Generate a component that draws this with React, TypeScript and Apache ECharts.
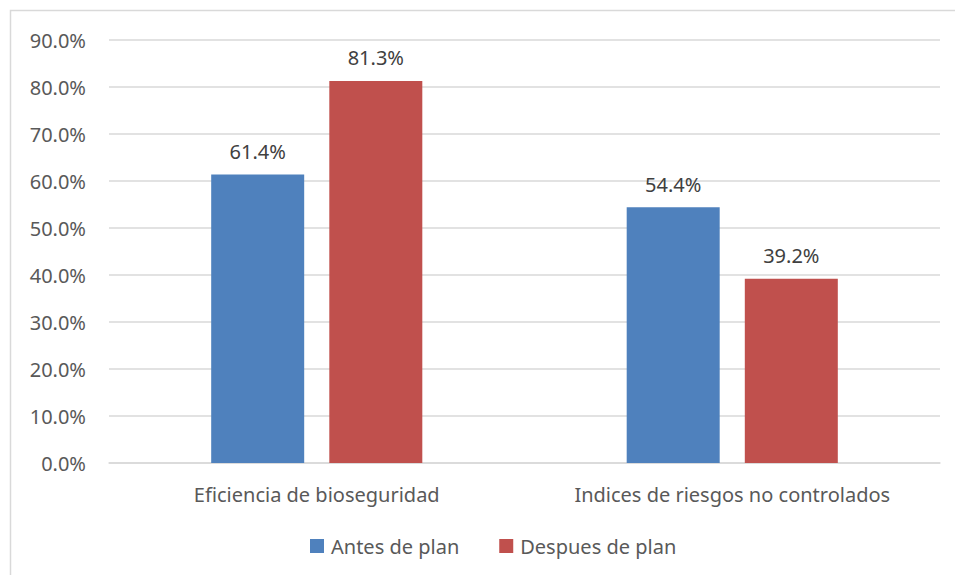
import React, { useEffect, useRef } from "react";
import * as echarts from "echarts";

const categories = ["Eficiencia de bioseguridad", "Indices de riesgos no controlados"];
const seriesNames = ["Antes de plan", "Despues de plan"];
const antesValues = [61.4, 54.4];
const despuesValues = [81.3, 39.2];
const colors = ["#4F81BD", "#C0504D"];

export default function App() {
  const ref = useRef<HTMLDivElement>(null);
  useEffect(() => {
    if (!ref.current) return;
    const chart = echarts.init(ref.current, null, { renderer: "svg" });
    const font = "'Noto Sans', 'Open Sans', sans-serif";
    const labelCfg = {
      show: true,
      position: "top" as const,
      distance: 13,
      color: "#404040",
      fontSize: 20,
      fontFamily: font,
      formatter: (p: any) => p.value.toFixed(1) + "%",
    };
    chart.setOption({
      animation: false,
      backgroundColor: "#ffffff",
      graphic: [
        {
          type: "rect",
          shape: { x: 10.5, y: 10.5, width: 960, height: 600 },
          style: { fill: "none", stroke: "#D9D9D9", lineWidth: 1.5 },
          silent: true,
        },
      ],
      grid: { left: 109, right: 15, top: 40, bottom: 112, containLabel: false },
      legend: {
        bottom: 14,
        left: 305,
        itemWidth: 14,
        itemHeight: 14,
        itemGap: 40,
        icon: "rect",
        textStyle: { color: "#595959", fontSize: 20, fontFamily: font, padding: [0, 0, 0, 2] },
        data: seriesNames,
      },
      xAxis: {
        type: "category",
        data: categories,
        axisLine: { show: true, lineStyle: { color: "#D9D9D9", width: 1.5 } },
        axisTick: { show: false },
        axisLabel: { color: "#595959", fontSize: 20, fontFamily: font, margin: 21 },
      },
      yAxis: {
        type: "value",
        min: 0,
        max: 90,
        interval: 10,
        axisLine: { show: false },
        axisTick: { show: false },
        axisLabel: {
          color: "#595959",
          fontSize: 20,
          fontFamily: font,
          margin: 23,
          formatter: (v: number) => v.toFixed(1) + "%",
        },
        splitLine: { lineStyle: { color: "#D9D9D9", width: 1.5 } },
      },
      series: [
        {
          name: seriesNames[0],
          type: "bar",
          data: antesValues,
          barWidth: 93,
          barGap: "27%",
          itemStyle: { color: colors[0] },
          label: labelCfg,
        },
        {
          name: seriesNames[1],
          type: "bar",
          data: despuesValues,
          barWidth: 93,
          barGap: "27%",
          itemStyle: { color: colors[1] },
          label: labelCfg,
        },
      ],
    });
    return () => chart.dispose();
  }, []);
  return (
    <div
      ref={ref}
      style={{ position: "fixed", left: 0, top: 0, width: 955, height: 575, background: "#fff" }}
    />
  );
}
